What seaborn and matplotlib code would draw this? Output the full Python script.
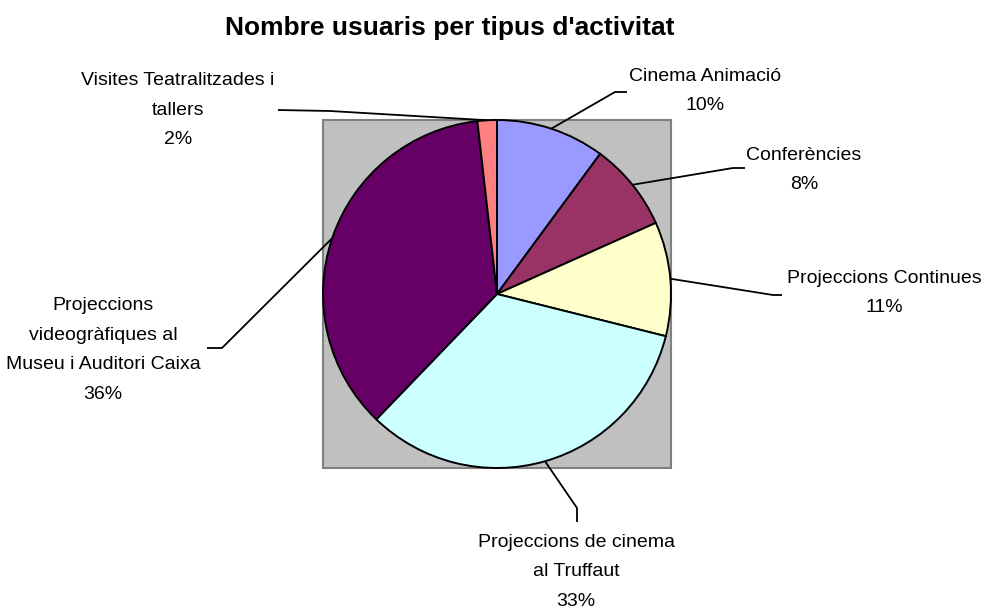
import matplotlib
matplotlib.use("Agg")
import matplotlib.pyplot as plt
import seaborn as sns
from matplotlib.patches import Rectangle
import numpy as np

# --- data -------------------------------------------------------------
categories = [
    "Cinema Animació",
    "Conferències",
    "Projeccions Continues",
    "Projeccions de cinema\nal Truffaut",
    "Projeccions\nvideogràfiques al\nMuseu i Auditori Caixa",
    "Visites Teatralitzades i\ntallers",
]
values = [10.1, 8.2, 10.6, 33.3, 36.0, 1.8]
colors = ["#9999FF", "#993366", "#FFFFCC", "#CCFFFF", "#660066", "#FF8080"]
title = "Nombre usuaris per tipus d'activitat"

# --- layout (pixel positions of label centres and leader elbows) -------
CX, CY, R = 497, 294, 174
label_xy = [(705, 91), (804, 170), (884, 293), (576, 572), (103, 350), (178, 110)]
elbows = [
    [(615, 92), (627, 92)],
    [(733, 168), (745, 168)],
    [(773, 295), (782, 295)],
    [(577, 508), (577, 522)],
    [(222, 348), (207, 348)],
    [(330, 111), (278, 110)],
]


def px(p):
    return ((p[0] - CX) / R, (CY - p[1]) / R)


sns.set_theme(style="white")
plt.rcParams["font.family"] = ["Liberation Sans", "DejaVu Sans"]

fig = plt.figure(figsize=(9.81, 6.09), dpi=100)
ax = fig.add_axes([0, 0, 1, 1])

ax.add_patch(Rectangle((-1, -1), 2, 2, facecolor="#C0C0C0",
                       edgecolor="#808080", linewidth=1.5, zorder=0))

wedges, _ = ax.pie(
    values,
    colors=colors,
    startangle=90,
    counterclock=False,
    radius=1,
    wedgeprops=dict(edgecolor="black", linewidth=1.4),
)

total = sum(values)
for w, name, v, pos, elb in zip(wedges, categories, values, label_xy, elbows):
    mid = np.deg2rad((w.theta1 + w.theta2) / 2)
    start = (np.cos(mid), np.sin(mid))
    pts = [start] + [px(p) for p in elb]
    ax.plot([p[0] for p in pts], [p[1] for p in pts], color="black",
            linewidth=1.3, zorder=5, solid_capstyle="butt")
    tx, ty = px(pos)
    ax.text(tx, ty, f"{name}\n{round(v / total * 100)}%", ha="center",
            va="center", fontsize=14, linespacing=1.95, color="black")

ax.set_xlim(-CX / R, (981 - CX) / R)
ax.set_ylim(-(609 - CY) / R, CY / R)
ax.set_aspect("equal")
ax.axis("off")

fig.text(450 / 981, 1 - 28 / 609, title, ha="center", va="center",
         fontsize=19, fontweight="bold", color="black")

fig.savefig("out.png", dpi=100)
plt.close(fig)
